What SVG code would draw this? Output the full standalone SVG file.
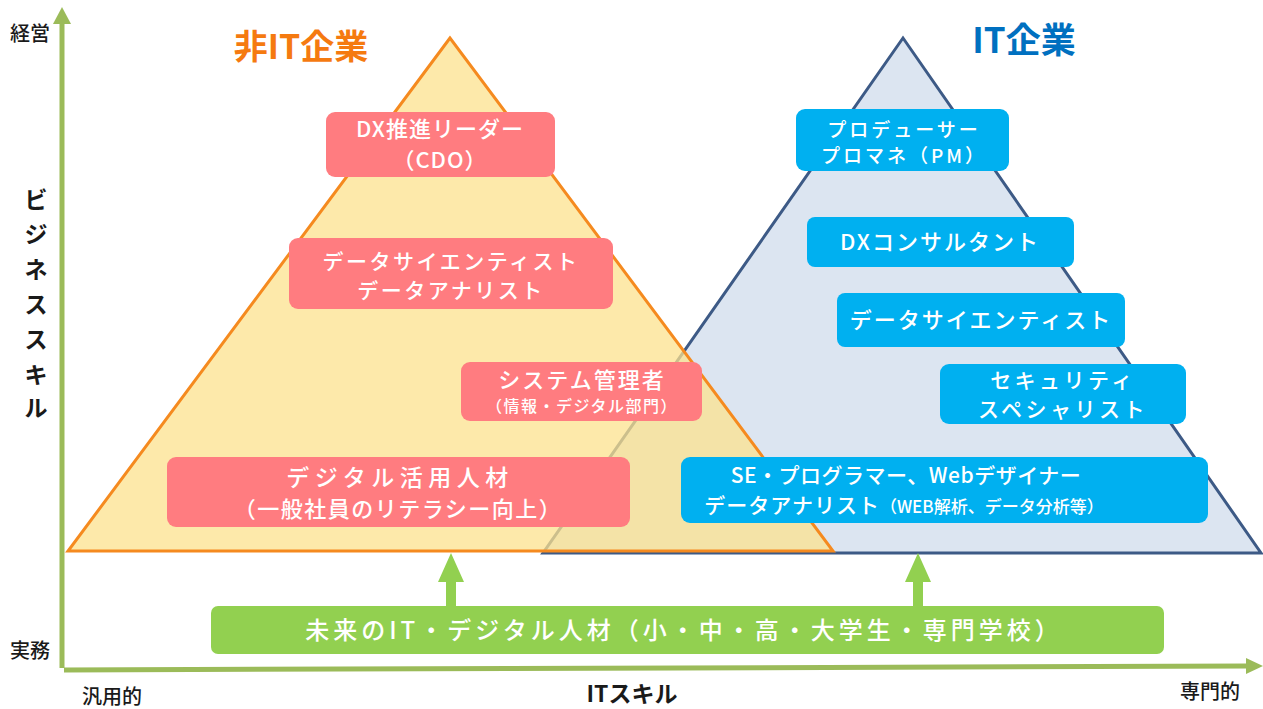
<svg xmlns="http://www.w3.org/2000/svg" width="1263" height="709" viewBox="0 0 1263 709">
<defs>
<style>
.jp{font-family:"Noto Sans CJK JP","Noto Sans",sans-serif;}
.wt{fill:#ffffff;text-anchor:middle;font-weight:500;}
.lab{fill:#1a1a1a;}
.pink{fill:#FF7C80;}
.blue{fill:#00B0F0;}
.grn{fill:#92D050;}
.axis{stroke:#9BBB59;stroke-width:5;fill:none;}
</style>
</defs>
<rect width="1263" height="709" fill="#ffffff"/>
<g id="axes">
<line class="axis" x1="62" y1="668" x2="62" y2="22"/>
<polygon points="62,7 53,24 71,24" fill="#9BBB59"/>
<line class="axis" x1="64" y1="670" x2="1248" y2="666"/>
<polygon points="1263,666 1246,658 1246,674" fill="#9BBB59"/>
</g>
<g id="labels" class="jp lab">
<text x="30" y="41" font-size="20" font-weight="500" text-anchor="middle">経営</text>
<text x="30" y="658" font-size="20" font-weight="500" text-anchor="middle">実務</text>
<text x="112" y="704" font-size="20" font-weight="500" text-anchor="middle">汎用的</text>
<text x="1210" y="699" font-size="20" font-weight="500" text-anchor="middle">専門的</text>
<text x="632" y="702" font-size="23" font-weight="bold" text-anchor="middle">ITスキル</text>
<text font-size="23" font-weight="bold" text-anchor="middle"><tspan x="36" y="208">ビ</tspan><tspan x="36" y="243">ジ</tspan><tspan x="36" y="278">ネ</tspan><tspan x="36" y="313">ス</tspan><tspan x="36" y="348">ス</tspan><tspan x="36" y="383">キ</tspan><tspan x="36" y="416">ル</tspan></text>
<text x="301" y="59" font-size="34" font-weight="bold" fill="#F57A10" text-anchor="middle">非IT企業</text>
<text x="1024" y="53" font-size="35" font-weight="bold" fill="#0070C0" text-anchor="middle">IT企業</text>
</g>
<g id="it-pyramid">
<polygon points="903,38 543,553 1261,553" fill="#DCE5F1" stroke="#3D5A86" stroke-width="3" stroke-linejoin="miter"/>
</g>
<g id="nonit-pyramid">
<polygon points="450,38 68,551 833,551" fill="#FCE28E" fill-opacity="0.75" stroke="#F58A1F" stroke-width="3"/>
</g>
<g id="connectors">
<polygon points="451,553 438,582 446,582 446,607 456,607 456,582 464,582" fill="#92D050"/>
<polygon points="918,553 905,582 913,582 913,607 923,607 923,582 931,582" fill="#92D050"/>
</g>
<g id="n-cdo">
<rect class="pink" x="326" y="112" width="229" height="65" rx="9"/>
<text class="jp wt" font-size="22" letter-spacing="1"><tspan x="440" y="137">DX推進リーダー</tspan><tspan x="440" y="168">（CDO）</tspan></text>
</g>
<g id="n-ds1">
<rect class="pink" x="289" y="238" width="324" height="71" rx="9"/>
<text class="jp wt" font-size="21" letter-spacing="2.5"><tspan x="451" y="269">データサイエンティスト</tspan><tspan x="451" y="298">データアナリスト</tspan></text>
</g>
<g id="n-sys">
<rect class="pink" x="461" y="362" width="241" height="59" rx="9"/>
<text class="jp wt"><tspan x="582" y="388" font-size="22" letter-spacing="2">システム管理者</tspan><tspan x="582" y="412" font-size="16" letter-spacing="1.5">（情報・デジタル部門）</tspan></text>
</g>
<g id="n-digital">
<rect class="pink" x="167" y="457" width="463" height="70" rx="9"/>
<text class="jp wt"><tspan x="400" y="486" font-size="23" letter-spacing="5.5">デジタル活用人材</tspan><tspan x="398" y="517" font-size="22" letter-spacing="1.5">（一般社員のリテラシー向上）</tspan></text>
</g>
<g id="n-pm">
<rect class="blue" x="796" y="109" width="213" height="62" rx="9"/>
<text class="jp wt" font-size="19" letter-spacing="3"><tspan x="904" y="137">プロデューサー</tspan><tspan x="904" y="163">プロマネ（PM）</tspan></text>
</g>
<g id="n-dxc">
<rect class="blue" x="807" y="217" width="267" height="50" rx="8"/>
<text class="jp wt" x="940" y="250" font-size="22" letter-spacing="2">DXコンサルタント</text>
</g>
<g id="n-ds2">
<rect class="blue" x="837" y="293" width="288" height="54" rx="8"/>
<text class="jp wt" x="981" y="328" font-size="22" letter-spacing="2">データサイエンティスト</text>
</g>
<g id="n-sec">
<rect class="blue" x="940" y="364" width="246" height="60" rx="9"/>
<text class="jp wt" font-size="21" letter-spacing="3.5"><tspan x="1063" y="388">セキュリティ</tspan><tspan x="1063" y="417">スペシャリスト</tspan></text>
</g>
<g id="n-se">
<rect class="blue" x="681" y="457" width="527" height="66" rx="9"/>
<text class="jp wt"><tspan x="906" y="483" font-size="21" letter-spacing="0.5">SE・プログラマー、Webデザイナー</tspan><tspan x="904" y="513" font-size="21" letter-spacing="1">データアナリスト<tspan font-size="17" letter-spacing="0">（WEB解析、データ分析等）</tspan></tspan></text>
</g>
<g id="n-future">
<rect class="grn" x="211" y="606" width="953" height="48" rx="7"/>
<text class="jp wt" x="684" y="639" font-size="24" letter-spacing="4">未来のIT・デジタル人材（小・中・高・大学生・専門学校）</text>
</g>
</svg>
